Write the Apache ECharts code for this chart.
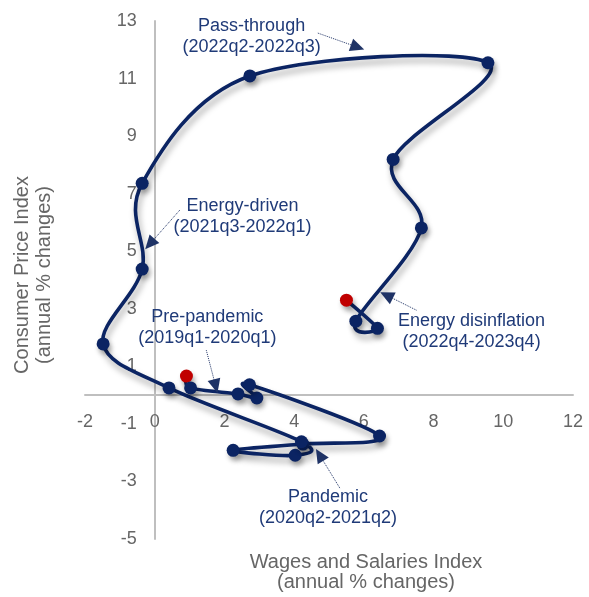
<!DOCTYPE html>
<html><head><meta charset="utf-8">
<script src="https://cdn.jsdelivr.net/npm/echarts@6/dist/echarts.min.js"></script>
<style>html,body{margin:0;padding:0;background:#fff}#c{width:589px;height:597px}</style>
</head><body><div id="c"></div>
<script>
// ---- data ----
const quarters = ['2019q1','2019q2','2019q3','2019q4','2020q1','2020q2','2020q3','2020q4','2021q1','2021q2','2021q3','2021q4','2022q1','2022q2','2022q3','2022q4','2023q1','2023q2','2023q3','2023q4','2024q1'];
const wages = [0.91, 1.03, 2.39, 2.93, 2.72, 6.45, 4.25, 2.25, 4.03, 4.21, 0.41, -1.48, -0.36, -0.36, 2.73, 9.56, 6.84, 7.65, 5.77, 6.39, 5.50];
const cpi   = [0.66, 0.25, 0.04, -0.10, 0.36, -1.42, -1.70, -1.92, -2.09, -1.62, 0.25, 1.78, 4.38, 7.36, 11.09, 11.55, 8.19, 5.81, 2.57, 2.32, 3.30];
const xTicks = [-2, 0, 2, 4, 6, 8, 10, 12];
const yTicks = [-5, -3, -1, 1, 3, 5, 7, 9, 11, 13];
const annotationTexts = ['Pass-through\n(2022q2-2022q3)', 'Energy-driven\n(2021q3-2022q1)', 'Pre-pandemic\n(2019q1-2020q1)', 'Energy disinflation\n(2022q4-2023q4)', 'Pandemic\n(2020q2-2021q2)'];
const annotationAt = [[2.78, 12.47], [2.52, 6.19], [1.51, 2.35], [9.09, 2.22], [4.97, -3.91]];
const arrowFrom = [[4.68, 12.58], [0.72, 6.43], [1.48, 1.56], [7.51, 2.95], [5.31, -3.23]];
const arrowTo   = [[5.82, 12.09], [-0.14, 5.25], [1.75, 0.31], [6.65, 3.47], [4.73, -2.08]];

// ---- chart ----
const NAVY = '#0b2463';
const RED = '#c00000';
const FONT = "'Liberation Sans', Arial, sans-serif";
const GRID = {left: 85, right: 16, top: 21, bottom: 58};
const W = 589, H = 597;
const last = quarters.length - 1;
const chart = echarts.init(document.getElementById('c'), null, {renderer: 'canvas'});

const seriesData = quarters.map((q, i) => {
  const d = {name: q, value: [wages[i], cpi[i]]};
  if (i === 0 || i === last) d.itemStyle = {color: RED};
  return d;
});

function smoothPath(params, api) {
  const pts = wages.map((w, i) => api.coord([w, cpi[i]]));
  const n = pts.length, k = 1 / 6;
  let d = 'M' + pts[0][0] + ',' + pts[0][1];
  for (let i = 0; i < n - 1; i++) {
    const p0 = pts[Math.max(i - 1, 0)], p1 = pts[i], p2 = pts[i + 1], p3 = pts[Math.min(i + 2, n - 1)];
    const c1 = [p1[0] + (p2[0] - p0[0]) * k, p1[1] + (p2[1] - p0[1]) * k];
    const c2 = [p2[0] - (p3[0] - p1[0]) * k, p2[1] - (p3[1] - p1[1]) * k];
    d += ' C' + c1[0] + ',' + c1[1] + ' ' + c2[0] + ',' + c2[1] + ' ' + p2[0] + ',' + p2[1];
  }
  return {
    type: 'path',
    shape: {pathData: d},
    style: {fill: 'none', stroke: NAVY, lineWidth: 3.6, lineJoin: 'round', lineCap: 'round',
            shadowColor: 'rgba(0,0,0,0.35)', shadowBlur: 6, shadowOffsetX: 2, shadowOffsetY: 5}
  };
}

function axisLabelCfg(ticks, margin) {
  return {margin: margin, color: '#666666', fontSize: 18, fontFamily: FONT,
          formatter: v => ticks.includes(v) ? String(v) : ''};
}

chart.setOption({
  animation: false,
  backgroundColor: '#fff',
  grid: Object.assign({containLabel: false}, GRID),
  xAxis: {
    type: 'value', min: -2, max: 12, interval: 2, position: 'bottom', offset: 0,
    axisLine: {show: true, onZero: false, lineStyle: {color: '#bfbfbf', width: 2}},
    axisTick: {show: false}, splitLine: {show: false},
    axisLabel: axisLabelCfg(xTicks, 18)
  },
  yAxis: {
    type: 'value', min: -5, max: 13, interval: 1, position: 'left', offset: 0,
    axisLine: {show: true, onZero: false, lineStyle: {color: '#bfbfbf', width: 2}},
    axisTick: {show: false}, splitLine: {show: false},
    axisLabel: axisLabelCfg(yTicks, 18)
  },
  series: [{
    type: 'custom',
    coordinateSystem: 'cartesian2d',
    data: [[wages[0], cpi[0]]],
    renderItem: smoothPath,
    clip: false,
    silent: true,
    z: 2
  }, {
    type: 'scatter',
    data: seriesData,
    symbol: 'circle',
    symbolSize: 13,
    z: 3,
    itemStyle: {color: NAVY, opacity: 1, shadowColor: 'rgba(0,0,0,0.3)', shadowBlur: 5, shadowOffsetX: 2, shadowOffsetY: 4},
    emphasis: {disabled: true},
    markLine: {
      silent: true,
      symbol: ['none', 'triangle'],
      symbolSize: [13, 14],
      label: {show: false},
      lineStyle: {color: '#1f3366', type: 'dotted', width: 1},
      data: arrowFrom.map((p, i) => [{coord: p}, {coord: arrowTo[i]}])
    },
    markPoint: {
      silent: true,
      symbol: 'circle',
      symbolSize: 1,
      itemStyle: {color: 'rgba(0,0,0,0)', shadowBlur: 0},
      label: {
        show: true, position: 'inside', color: '#1f3a78', fontSize: 18, lineHeight: 21,
        fontFamily: FONT, align: 'center', verticalAlign: 'middle',
        formatter: p => p.name
      },
      data: annotationTexts.map((t, i) => ({name: t, coord: annotationAt[i]}))
    }
  }],
  graphic: [
    {type: 'text', x: 366, y: 572, style: {text: 'Wages and Salaries Index\n(annual % changes)', fill: '#666666', font: "20px 'Liberation Sans', Arial, sans-serif", textAlign: 'center', textVerticalAlign: 'middle', lineHeight: 20}},
    {type: 'text', x: 33, y: 275, rotation: Math.PI / 2, style: {text: 'Consumer Price Index\n(annual % changes)', fill: '#666666', font: "20px 'Liberation Sans', Arial, sans-serif", textAlign: 'center', textVerticalAlign: 'middle', lineHeight: 22}}
  ]
});

// move both axes (line + labels) to cross at the origin, using the library's own scale
const origin = chart.convertToPixel({gridIndex: 0}, [0, 0]);
chart.setOption({
  xAxis: {offset: origin[1] - (H - GRID.bottom)},
  yAxis: {offset: GRID.left - origin[0]}
});
</script></body></html>
